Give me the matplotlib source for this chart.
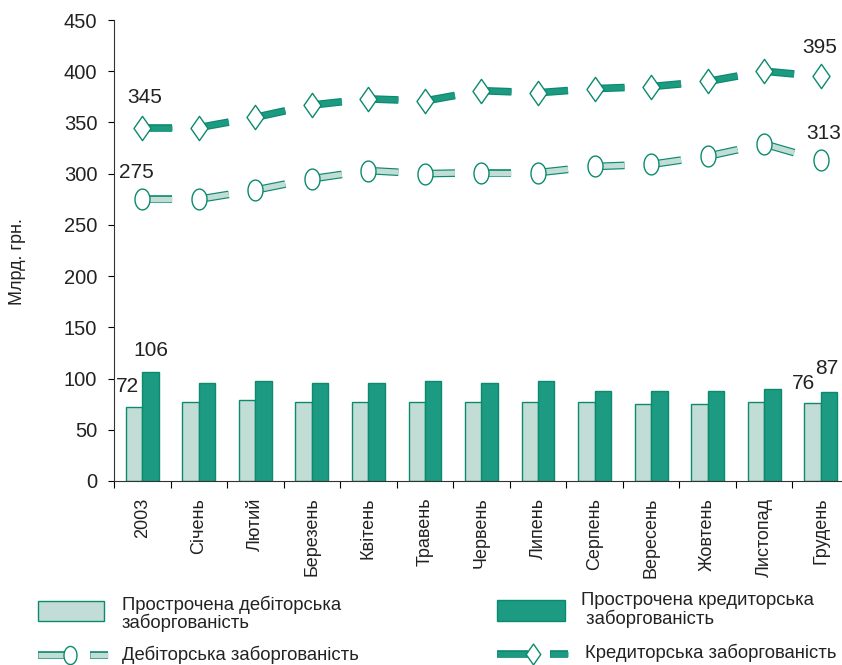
import numpy as np
import matplotlib
matplotlib.use('Agg')
import matplotlib.pyplot as plt
from matplotlib.path import Path
from matplotlib.patches import Rectangle
from matplotlib.lines import Line2D

plt.rcParams['font.family'] = ['Liberation Sans', 'DejaVu Sans']

months = ['2003', 'Січень', 'Лютий', 'Березень', 'Квітень', 'Травень', 'Червень',
          'Липень', 'Серпень', 'Вересень', 'Жовтень', 'Листопад', 'Грудень']
overdue_debit = [72, 77, 79, 77, 77, 77, 77, 77, 77, 75, 75, 77, 76]
overdue_credit = [106, 96, 98, 96, 96, 98, 96, 98, 88, 88, 88, 90, 87]
debit = [275, 275, 284, 295, 303, 300, 301, 301, 307, 309, 317, 329, 313]
credit = [345, 345, 355, 367, 373, 371, 381, 379, 383, 385, 390, 400, 395]

light = '#c2ddd5'
dark = '#1d9b82'
edge = '#0b8a6e'
txt = '#222222'

W, H = 842, 665
fig = plt.figure(figsize=(W / 100, H / 100), dpi=100)
ax = fig.add_axes([114 / W, 184 / H, 735 / W, 461 / H])

x = np.arange(len(months))
bw = 0.29
ax.bar(x - bw / 2, overdue_debit, bw, color=light, edgecolor=edge, lw=1, zorder=2)
ax.bar(x + bw / 2, overdue_credit, bw, color=dark, edgecolor=edge, lw=1, zorder=2)


def ribbon(vals, face):
    # short thick pieces from each point towards the next one
    for i in range(len(vals) - 1):
        x0, y0 = x[i], vals[i]
        x1 = x0 + 0.53
        y1 = y0 + 0.53 * (vals[i + 1] - vals[i])
        ax.plot([x0, x1], [y0, y1], color=edge, lw=5.5, solid_capstyle='butt', zorder=3)
        ax.plot([x0, x1], [y0, y1], color=face, lw=3.8, solid_capstyle='butt', zorder=3)


ribbon(debit, light)
ribbon(credit, dark)

t = np.linspace(0, 2 * np.pi, 60)
ellipse = Path(np.column_stack([0.72 * np.cos(t), np.sin(t)]), closed=True)
diamond = Path([(0, 1), (0.7, 0), (0, -1), (-0.7, 0), (0, 1)], closed=True)

ax.plot(x, debit, ls='none', marker=ellipse, ms=15, mfc='white', mec=edge, mew=1, zorder=4)
ax.plot(x, credit, ls='none', marker=diamond, ms=17.5, mfc='white', mec=edge, mew=1, zorder=4)

ax.set_xlim(-0.5, len(months) - 0.5)
ax.set_ylim(0, 450)
ax.set_yticks(range(0, 451, 50))
ax.tick_params(axis='y', direction='out', length=4, pad=8, labelsize=14.5, labelcolor=txt)
ax.set_xticks(np.arange(-0.5, len(months)))
ax.set_xticklabels([])
ax.tick_params(axis='x', which='major', direction='out', length=5)
ax.set_xticks(x, minor=True)
ax.set_xticklabels(months, minor=True, rotation=90, fontsize=13, color=txt)
ax.tick_params(axis='x', which='minor', length=0, pad=12)
for s in ['top', 'right']:
    ax.spines[s].set_visible(False)
for s in ['left', 'bottom']:
    ax.spines[s].set_color('#333333')

fig.text(18 / W, 1 - 262 / H, 'Млрд. грн.', rotation=90, ha='center', va='center',
         fontsize=13, color=txt)

notes = [
    ('345', 0, credit[0], 1.5, 21.5),
    ('275', 0, debit[0], -4, 19),
    ('395', 12, credit[12], -1, 21),
    ('313', 12, debit[12], 2, 19.5),
    ('106', bw / 2, overdue_credit[0], 0.5, 16),
    ('72', -bw / 2, overdue_debit[0], -5, 15),
    ('76', 12 - bw / 2, overdue_debit[12], -6.5, 14),
    ('87', 12 + bw / 2, overdue_credit[12], -1.5, 16.5),
]
for s, xi, yi, dx, dy in notes:
    ax.annotate(s, (xi, yi), xytext=(dx, dy), textcoords='offset points',
                ha='center', va='center', fontsize=15, color=txt)


def fx(px):
    return px / W


def fy(py):
    return 1 - py / H


# legend drawn in figure pixels
fig.patches.append(Rectangle((fx(38), fy(621)), 66 / W, 20 / H, transform=fig.transFigure,
                             facecolor=light, edgecolor=edge, lw=1))
fig.patches.append(Rectangle((fx(497), fy(621)), 68 / W, 21 / H, transform=fig.transFigure,
                             facecolor=dark, edgecolor=edge, lw=1))
fig.text(fx(122), fy(614), 'Прострочена дебіторська\nзаборгованість', ha='left', va='center',
         fontsize=13.3, color=txt, linespacing=1.0)
fig.text(fx(581), fy(610), 'Прострочена кредиторська\n заборгованість', ha='left', va='center',
         fontsize=13.3, color=txt, linespacing=1.0)


def legend_line(x0, x1, xm, x2, x3, yy, face, mk, ms):
    for a, b in [(x0, x1), (x2, x3)]:
        fig.lines.append(Line2D([fx(a), fx(b)], [fy(yy), fy(yy)], transform=fig.transFigure,
                                color=edge, lw=5.5, solid_capstyle='butt'))
        fig.lines.append(Line2D([fx(a), fx(b)], [fy(yy), fy(yy)], transform=fig.transFigure,
                                color=face, lw=3.8, solid_capstyle='butt'))
    fig.lines.append(Line2D([fx(xm)], [fy(yy)], transform=fig.transFigure, ls='none',
                            marker=mk, ms=ms, mfc='white', mec=edge, mew=1))


legend_line(38, 66, 70, 90, 108, 655, light, ellipse, 13)
legend_line(497, 528, 533, 550, 568, 654, dark, diamond, 15)
fig.text(fx(122), fy(655), 'Дебіторська заборгованість', ha='left', va='center',
         fontsize=13.3, color=txt)
fig.text(fx(585), fy(653), 'Кредиторська заборгованість', ha='left', va='center',
         fontsize=13.3, color=txt)

fig.savefig('out.png', dpi=100)
